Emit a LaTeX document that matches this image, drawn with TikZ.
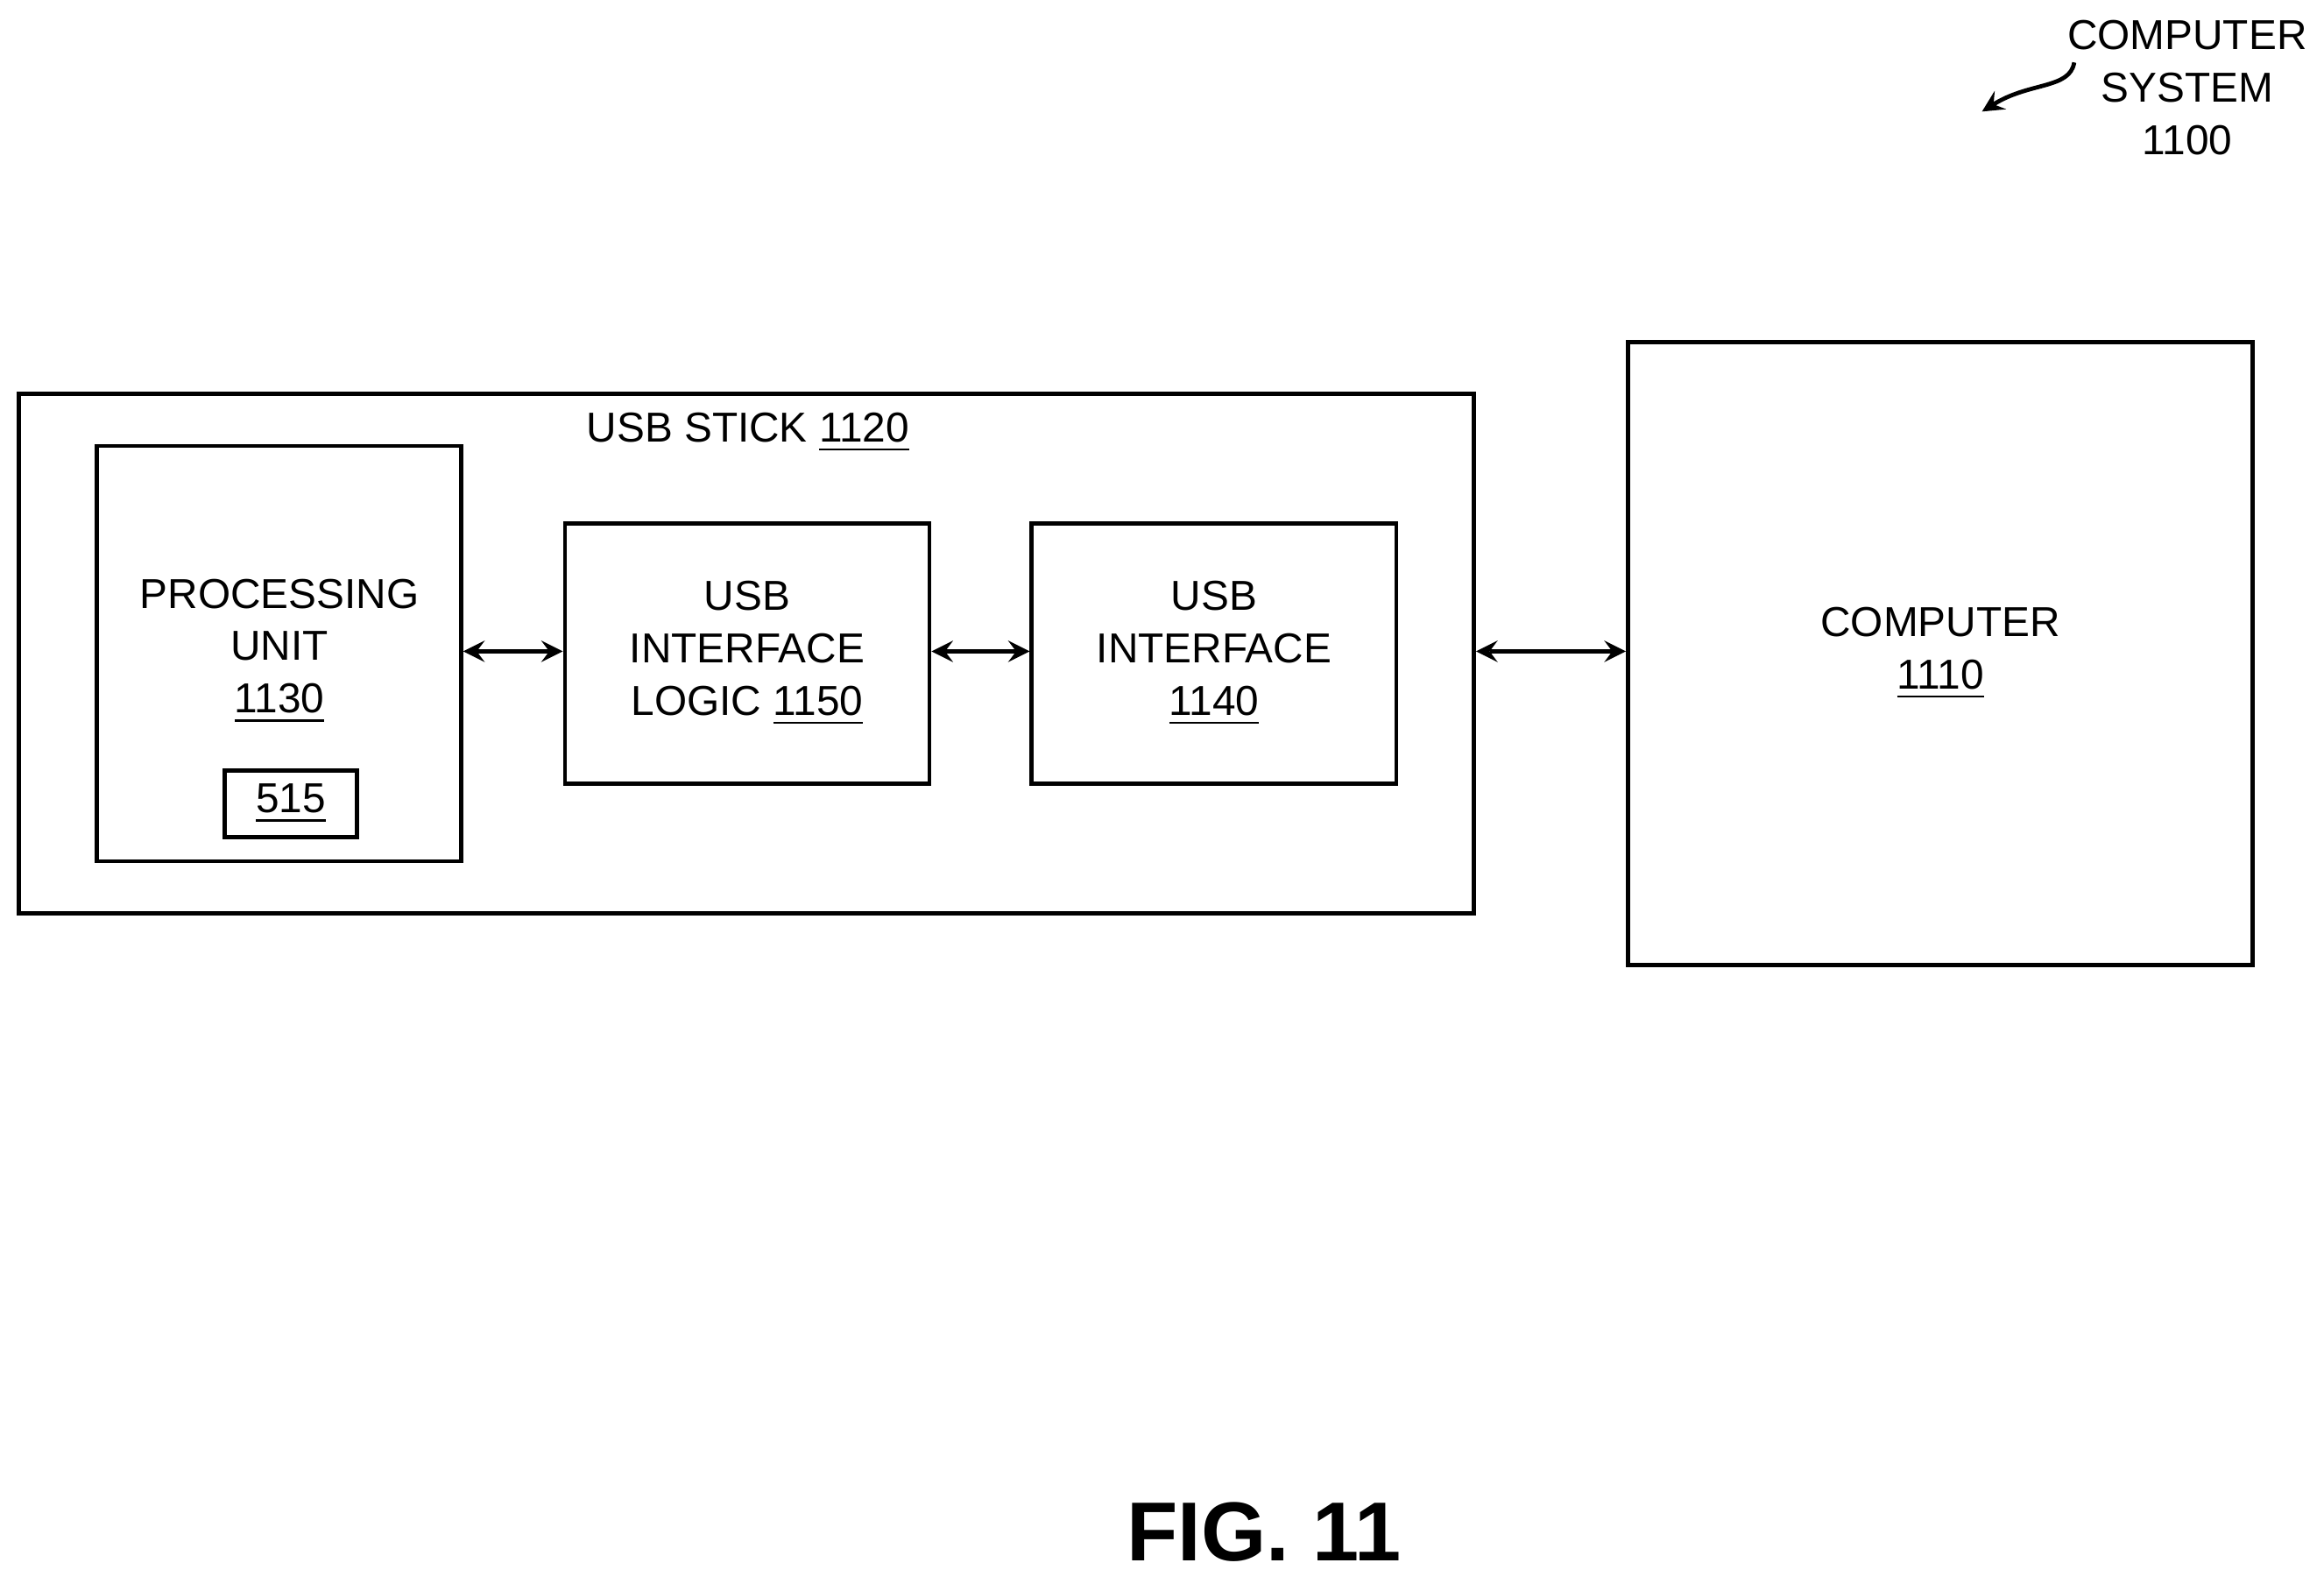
\documentclass[tikz,border=0pt]{standalone}
\usepackage{fontspec}
\setmainfont{Liberation Sans}
\usetikzlibrary{positioning}
\tikzset{
  blk/.style={draw, thick, inner sep=0pt, align=center, font=\fontsize{8}{10}\selectfont},
  lbl/.style={align=center, font=\fontsize{8}{10}\selectfont},
  link/.style={thick, <->, >=stealth}
}
\begin{document}
\begin{tikzpicture}[x=0.01cm, y=-0.01cm]
\useasboundingbox (0,0) rectangle (1563,1060);
% usb stick frame
\node[blk, minimum width=978\pgflinewidth, minimum width=9.78cm, minimum height=3.49cm] (stick) at (502,439.5) {};
\node[lbl] (sticklbl) at (503,291) {USB STICK \underline{1120}};
% inner blocks
\node[blk, minimum width=2.45cm, minimum height=2.79cm] (pu) at (187.5,439.5) {};
\node[lbl] (putxt) at (188,438) {PROCESSING\\UNIT\\\underline{1130}};
\node[blk, minimum width=0.89cm, minimum height=0.45cm] (mod) at (195.5,540.5) {\underline{515}};
\node[blk, minimum width=2.45cm, minimum height=1.75cm] (logic) at (502.5,439.5) {USB\\INTERFACE\\LOGIC \underline{1150}};
\node[blk, minimum width=2.45cm, minimum height=1.75cm] (iface) at (816.5,439.5) {USB\\INTERFACE\\\underline{1140}};
% computer
\node[blk, minimum width=4.2cm, minimum height=4.19cm] (comp) at (1305,439.5) {COMPUTER\\\underline{1110}};
% links
\draw[link] (pu.east |- 0,438) -- (logic.west |- 0,438);
\draw[link] (logic.east |- 0,438) -- (iface.west |- 0,438);
\draw[link] (stick.east |- 0,438) -- (comp.west |- 0,438);
% system label
\node[lbl] (sys) at (1471,59) {COMPUTER\\SYSTEM\\1100};
\coordinate (tip) at (1333,75);
\draw[thick, ->, >=stealth] (1395,42) .. controls (1392,60) and (1365,55) .. (tip);
\node[font=\fontsize{16}{18}\selectfont\bfseries] (fig) at (850,1030) {FIG. 11};
\end{tikzpicture}
\end{document}
